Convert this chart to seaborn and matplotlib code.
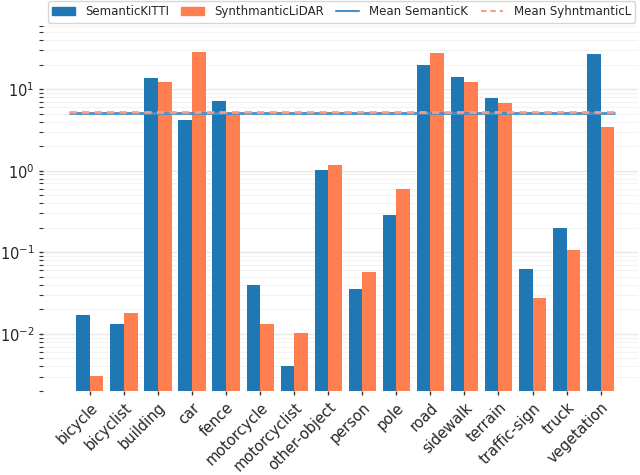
import numpy as np
import pandas as pd
import matplotlib
matplotlib.use("Agg")
import matplotlib.pyplot as plt
from matplotlib.lines import Line2D
import seaborn as sns

# class names
classes = ['bicycle', 'bicyclist', 'building', 'car', 'fence', 'motorcycle',
           'motorcyclist', 'other-object', 'person', 'pole', 'road', 'sidewalk',
           'terrain', 'traffic-sign', 'truck', 'vegetation']

# class share (%)
semantic_kitti = [0.0169, 0.0132, 13.5, 4.23, 7.22, 0.0403,
                  0.00405, 1.01, 0.0353, 0.286, 19.9, 14.2,
                  7.87, 0.0622, 0.196, 27.3]
synth_lidar = [0.00305, 0.0179, 12.4, 28.9, 5.05, 0.0132,
               0.0102, 1.19, 0.0577, 0.60, 28.0, 12.4,
               6.83, 0.0274, 0.106, 3.47]

mean_kitti = 5.05
mean_synth = 5.25

blue = '#1f77b4'
orange = '#ff7f50'
mean_blue = '#4a90c8'
mean_orange = '#ff9b7a'

df = pd.DataFrame({
    'class': classes * 2,
    'share': semantic_kitti + synth_lidar,
    'dataset': ['SemanticKITTI'] * len(classes) + ['SynthmanticLiDAR'] * len(classes),
})

sns.set_style("whitegrid")
plt.rcParams['font.family'] = ['DejaVu Sans']

fig = plt.figure(figsize=(6.4, 4.75), dpi=100)
ax = fig.add_axes([0.067, 0.177, 0.93, 0.775])

sns.barplot(data=df, x='class', y='share', hue='dataset', palette=[blue, orange],
            saturation=1, width=0.8, linewidth=0, ax=ax, legend=False)
ax.set_yscale('log')

dash = (0, (2.6, 1.9))
ax.hlines(mean_kitti, -0.62, 15.42, color=mean_blue, lw=2)
ax.hlines(mean_synth, -0.62, 15.42, color=mean_orange, lw=2, ls=dash)

ax.set_xlim(-1.38, 16.1)
ax.set_ylim(0.002, 65)
ax.set_xlabel('')
ax.set_ylabel('')

ax.grid(True, which='major', color='#e8e8e8', lw=1)
ax.grid(True, which='minor', axis='y', color='#f3f3f3', lw=0.8)
ax.grid(False, axis='x', which='both')
ax.tick_params(axis='y', which='both', left=True, length=3, width=1, color='#333333',
               labelsize=10.5, pad=3)
ax.tick_params(axis='y', which='minor', length=3, width=0.8)
ax.tick_params(axis='x', bottom=True, length=3, width=1, color='#333333', labelsize=10.5)
plt.setp(ax.get_xticklabels(), rotation=45, ha='right', rotation_mode='anchor')
for s in ax.spines.values():
    s.set_visible(False)

handles = [plt.Rectangle((0, 0), 1, 1, color=blue),
           plt.Rectangle((0, 0), 1, 1, color=orange),
           Line2D([], [], color=mean_blue, lw=1.5),
           Line2D([], [], color=mean_orange, lw=1.5, ls=dash)]
labels = ['SemanticKITTI', 'SynthmanticLiDAR', 'Mean SemanticK', 'Mean SyhntmanticL']
fig.legend(handles, labels, ncol=4, mode='expand', loc='lower left',
           bbox_to_anchor=(48 / 640, 1 - 22.5 / 475, 587 / 640, 0.04),
           bbox_transform=fig.transFigure, fontsize=8.5, frameon=True,
           borderaxespad=0, handlelength=1.9, handletextpad=0.9, borderpad=0.35)

fig.savefig('out.png', dpi=100)
